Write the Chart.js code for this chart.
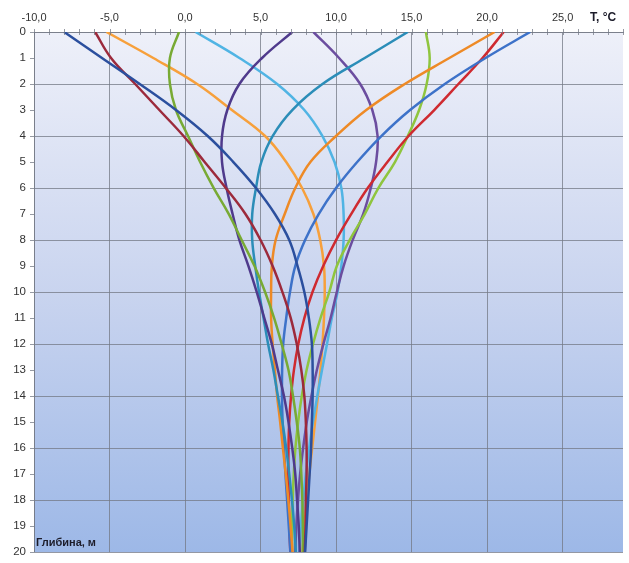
<!DOCTYPE html>
<html>
<head>
<meta charset="utf-8">
<script src="https://cdn.jsdelivr.net/npm/chart.js@4.4.0/dist/chart.umd.min.js"></script>
<style>
  html, body { margin: 0; padding: 0; background: #fff; }
  #wrap { width: 629px; height: 563px; }
</style>
</head>
<body>
<div id="wrap"><canvas id="chart"></canvas></div>
<script>
// Soil temperature profiles, one curve per month

const depths = [0, 1, 2, 3, 4, 5, 6, 7, 8, 9, 10, 11, 12, 13, 14, 15, 16, 17, 18, 19, 20];
const xTicks = [-10, -5, 0, 5, 10, 15, 20, 25];

const tJan = [-8.0, -5.5, -3.0, -0.6, 1.5, 3.2, 4.7, 5.95, 6.9, 7.45, 7.9, 8.2, 8.4, 8.45, 8.45, 8.4, 8.35, 8.25, 8.15, 8.05, 7.95];
const tFeb = [-5.95, -4.9, -3.3, -1.7, -0.1, 1.3, 2.7, 4.0, 5.0, 5.8, 6.45, 7.0, 7.4, 7.7, 7.9, 8.0, 8.05, 8.05, 8.0, 7.98, 7.93];
const tMar = [-0.4, -1.0, -1.0, -0.6, 0.2, 1.0, 1.9, 2.9, 3.75, 4.6, 5.3, 5.9, 6.4, 6.85, 7.15, 7.4, 7.6, 7.7, 7.77, 7.8, 7.8];
const tApr = [7.1, 5.1, 3.6, 2.8, 2.45, 2.45, 2.75, 3.15, 3.6, 4.2, 4.75, 5.25, 5.75, 6.15, 6.55, 6.85, 7.1, 7.3, 7.42, 7.53, 7.6];
const tMay = [14.75, 11.9, 9.1, 7.1, 5.8, 5.05, 4.7, 4.45, 4.45, 4.65, 4.9, 5.2, 5.5, 5.85, 6.15, 6.45, 6.7, 6.9, 7.08, 7.23, 7.34];
const tJun = [20.5, 17.5, 14.55, 12.0, 10.0, 8.3, 7.3, 6.6, 6.0, 5.75, 5.7, 5.7, 5.8, 5.95, 6.1, 6.3, 6.48, 6.67, 6.84, 6.99, 7.12];
const tJul = [22.85, 19.9, 17.2, 14.9, 13.0, 11.4, 10.0, 8.85, 7.95, 7.3, 6.95, 6.7, 6.5, 6.43, 6.42, 6.46, 6.55, 6.65, 6.76, 6.87, 6.98];
const tAug = [21.1, 19.7, 18.1, 16.5, 14.8, 13.4, 12.1, 11.0, 10.0, 9.15, 8.44, 7.9, 7.5, 7.21, 7.02, 6.9, 6.85, 6.84, 6.87, 6.91, 6.97];
const tSep = [15.95, 16.2, 16.0, 15.5, 14.75, 13.9, 12.8, 11.9, 10.9, 10.05, 9.55, 8.97, 8.47, 8.05, 7.73, 7.49, 7.31, 7.2, 7.13, 7.09, 7.09];
const tOct = [8.5, 10.2, 11.6, 12.4, 12.75, 12.65, 12.3, 11.8, 11.1, 10.5, 10.05, 9.64, 9.16, 8.73, 8.37, 8.06, 7.82, 7.62, 7.48, 7.37, 7.3];
const tNov = [0.7, 3.6, 6.1, 7.9, 9.1, 9.9, 10.35, 10.5, 10.5, 10.35, 10.1, 9.72, 9.4, 9.07, 8.76, 8.47, 8.22, 8.0, 7.82, 7.67, 7.56];
const tDec = [-5.2, -2.1, 0.8, 3.1, 5.3, 6.7, 7.75, 8.5, 8.95, 9.2, 9.25, 9.2, 9.1, 8.97, 8.8, 8.61, 8.42, 8.23, 8.06, 7.91, 7.78];

const months = ['Січень', 'Лютий', 'Березень', 'Квітень', 'Травень', 'Червень',
    'Липень', 'Серпень', 'Вересень', 'Жовтень', 'Листопад', 'Грудень'];
const series = [tJan, tFeb, tMar, tApr, tMay, tJun, tJul, tAug, tSep, tOct, tNov, tDec];
const colors = ['#2b4f9e', '#9c2a3c', '#78aa34', '#4f3a8c', '#2b8db8', '#ee8a26',
    '#3d72c9', '#cf2a30', '#8fc53e', '#6b4d9f', '#50b4e4', '#f7a03b'];

const gridColor = 'rgba(115, 120, 132, 0.75)';

// plot area gradient + axis titles + minor ticks
const decorPlugin = {
    id: 'decor',
    beforeDraw(chart) {
        const { ctx, chartArea: a } = chart;
        const g = ctx.createLinearGradient(0, a.top, 0, a.bottom);
        g.addColorStop(0, '#eef0f9');
        g.addColorStop(0.5, '#c9d4ef');
        g.addColorStop(1, '#9db8e7');
        ctx.save();
        ctx.fillStyle = g;
        ctx.fillRect(a.left, a.top, a.right - a.left, a.bottom - a.top);
        ctx.restore();
    },
    afterDraw(chart) {
        const { ctx, chartArea: a } = chart;
        const xs = chart.scales.x;
        ctx.save();
        ctx.strokeStyle = gridColor;
        ctx.lineWidth = 1;
        for (let v = -10; v <= 29; v++) {
            const px = Math.round(xs.getPixelForValue(v)) + 0.5;
            ctx.beginPath();
            ctx.moveTo(px, a.top - 3);
            ctx.lineTo(px, a.top + 3);
            ctx.stroke();
        }
        ctx.fillStyle = '#1c1c2a';
        ctx.font = 'bold 11px "Liberation Sans", Arial, sans-serif';
        ctx.textBaseline = 'middle';
        ctx.textAlign = 'left';
        ctx.fillText('Глибина, м', a.left + 2, a.bottom - 9);
        ctx.font = 'bold 12px "Liberation Sans", Arial, sans-serif';
        ctx.fillText('T, °C', 590, 18);
        ctx.restore();
    }
};

const datasets = series.map((vals, i) => ({
    label: months[i],
    data: vals.map((t, j) => ({ x: t, y: depths[j] })),
    borderColor: colors[i],
    backgroundColor: colors[i],
    borderWidth: 2.5,
    pointRadius: 0,
    showLine: true,
    tension: 0.4,
    fill: false
}));

new Chart(document.getElementById('chart'), {
    type: 'scatter',
    data: { datasets: datasets },
    options: {
        responsive: true,
        maintainAspectRatio: false,
        animation: false,
        layout: { padding: { top: 0, left: 0, right: 6, bottom: 6 } },
        plugins: {
            legend: { display: false },
            tooltip: { enabled: false }
        },
        scales: {
            x: {
                type: 'linear',
                position: 'top',
                min: -10,
                max: 29,
                afterBuildTicks: s => { s.ticks = xTicks.map(v => ({ value: v })); },
                afterFit: s => { s.height = 32; },
                ticks: {
                    autoSkip: false,
                    maxRotation: 0,
                    padding: 7,
                    color: '#333333',
                    font: { family: '"Liberation Sans", Arial, sans-serif', size: 11 },
                    callback: v => v.toFixed(1).replace('.', ',')
                },
                grid: { color: gridColor, lineWidth: 1, drawTicks: false },
                border: { color: gridColor }
            },
            y: {
                type: 'linear',
                reverse: true,
                min: 0,
                max: 20,
                afterBuildTicks: s => { s.ticks = depths.map(v => ({ value: v })); },
                afterFit: s => { s.width = 34; },
                ticks: {
                    autoSkip: false,
                    padding: 4,
                    color: '#333333',
                    font: { family: '"Liberation Sans", Arial, sans-serif', size: 11.5 },
                    callback: v => String(v)
                },
                grid: {
                    color: c => (c.tick && c.tick.value % 2 === 0) ? gridColor : 'rgba(0,0,0,0)',
                    tickColor: gridColor,
                    tickLength: 4,
                    lineWidth: 1
                },
                border: { color: gridColor }
            }
        }
    },
    plugins: [decorPlugin]
});
</script>
</body>
</html>
